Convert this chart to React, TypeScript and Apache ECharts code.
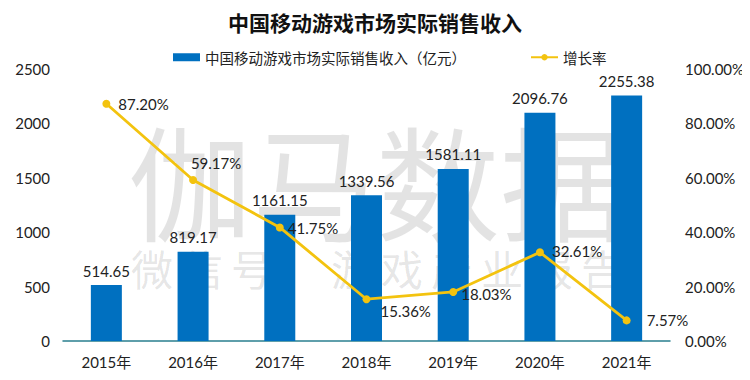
import React, { useEffect, useRef } from "react";
import * as echarts from "echarts";

const categories = ["2015年", "2016年", "2017年", "2018年", "2019年", "2020年", "2021年"];
const revenue = [514.65, 819.17, 1161.15, 1339.56, 1581.11, 2096.76, 2255.38];
const growth = [87.2, 59.17, 41.75, 15.36, 18.03, 32.61, 7.57];
const leftTicks = { min: 0, max: 2500, interval: 500 };
const rightTicks = { min: 0, max: 100, interval: 20 };
const watermarkBig = "伽马数据";
const watermarkSmall = ["微", "信", "号", "：", "游", "戏", "产", "业", "报", "告"];

const FONT = "Lato, 'Noto Sans CJK SC', sans-serif";
const CJK = "'Noto Sans CJK SC', sans-serif";

const growthLabelOffsets: Array<{ position: string; offset: number[] }> = [
  { position: "right", offset: [2, 0] },
  { position: "top", offset: [23, 0] },
  { position: "right", offset: [-2, 1] },
  { position: "right", offset: [4, 12] },
  { position: "right", offset: [-2, 2] },
  { position: "right", offset: [2, -1] },
  { position: "right", offset: [10, 0] },
];

export default function App() {
  const ref = useRef<HTMLDivElement>(null);
  useEffect(() => {
    if (!ref.current) return;
    const chart = echarts.init(ref.current, undefined, { renderer: "svg" });
    const wmColor = "rgba(0,0,0,0.11)";
    chart.setOption({
      animation: false,
      backgroundColor: "#ffffff",
      textStyle: { fontFamily: FONT },
      title: {
        text: "中国移动游戏市场实际销售收入",
        left: "center",
        top: 6,
        textStyle: { fontSize: 21, fontWeight: "bold", color: "#111", fontFamily: CJK },
      },
      graphic: [
        {
          type: "text",
          left: 128,
          top: 116,
          z: -10,
          silent: true,
          style: {
            text: watermarkBig,
            fontSize: 124,
            fill: wmColor,
            fontFamily: CJK,
          },
        },
        ...watermarkSmall.map((ch, i) => ({
          type: "text",
          left: 131 + i * 50,
          top: 246,
          z: -10,
          silent: true,
          style: { text: ch, fontSize: 42, fill: wmColor, fontFamily: CJK },
        })),
      ],
      legend: {
        top: 45,
        left: 168,
        itemGap: 64,
        itemWidth: 27,
        itemHeight: 8,
        textStyle: { fontSize: 14.5, color: "#222", fontFamily: CJK },
        data: [
          { name: "中国移动游戏市场实际销售收入（亿元）", icon: "rect" },
          { name: "增长率" },
        ],
      },
      grid: { left: 63, right: 80, top: 69, bottom: 39 },
      xAxis: {
        type: "category",
        data: categories,
        axisLine: { lineStyle: { color: "#2a7f8f", width: 1.5 } },
        axisTick: { show: false },
        axisLabel: { fontSize: 15, color: "#222", margin: 13 },
      },
      yAxis: [
        {
          type: "value",
          ...leftTicks,
          splitLine: { show: false },
          axisLine: { show: false },
          axisTick: { show: false },
          axisLabel: {
            fontSize: 15,
            color: "#222",
            margin: 13,
            formatter: (v: number) => String(v),
          },
        },
        {
          type: "value",
          ...rightTicks,
          splitLine: { show: false },
          axisLine: { show: false },
          axisTick: { show: false },
          axisLabel: {
            fontSize: 15,
            color: "#222",
            margin: 15,
            formatter: (v: number) => v.toFixed(2) + "%",
          },
        },
      ],
      series: [
        {
          name: "中国移动游戏市场实际销售收入（亿元）",
          type: "bar",
          data: revenue,
          barWidth: 31,
          itemStyle: { color: "#0070c0" },
          label: {
            show: true,
            position: "top",
            distance: 7,
            fontSize: 15,
            color: "#222",
            formatter: (p: any) => p.value.toFixed(2),
          },
        },
        {
          name: "增长率",
          type: "line",
          yAxisIndex: 1,
          data: growth.map((v, i) => ({
            value: v,
            label: {
              position: growthLabelOffsets[i].position,
              offset: growthLabelOffsets[i].offset,
            },
          })),
          smooth: false,
          symbol: "circle",
          symbolSize: 8,
          lineStyle: { color: "#f3c30f", width: 2.8 },
          itemStyle: { color: "#f3c30f" },
          label: {
            show: true,
            fontSize: 15,
            color: "#222",
            distance: 6,
            formatter: (p: any) => p.value.toFixed(2) + "%",
          },
        },
      ],
    });
    return () => chart.dispose();
  }, []);
  return <div ref={ref} style={{ width: 750, height: 380, margin: -8 }} />;
}
